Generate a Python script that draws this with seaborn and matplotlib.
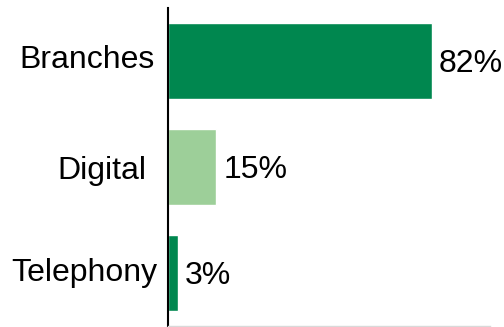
import matplotlib
matplotlib.use("Agg")
import matplotlib.pyplot as plt
import seaborn as sns
import pandas as pd

categories = ["Branches", "Digital", "Telephony"]
values = [82, 15, 3]
labels = ["82%", "15%", "3%"]
colors = ["#00874F", "#9DCF99", "#00874F"]

sns.set_theme(style="white")
plt.rcParams["font.family"] = ["Liberation Sans", "DejaVu Sans"]

df = pd.DataFrame({"channel": categories, "share": values})

fig = plt.figure(figsize=(5.04, 3.27), dpi=100)
ax = fig.add_axes([168/504, 1 - 326/327, (490-168)/504, (326-8)/327])
sns.barplot(data=df, x="share", y="channel", hue="channel", palette=colors,
            width=0.72, legend=False, ax=ax, saturation=1)
ax.set_xlim(0, 100)
ax.set_ylim(2.5, -0.5)
ax.set_xlabel("")
ax.set_ylabel("")
ax.set_xticks([])
ax.set_yticks(range(len(categories)))
ax.set_yticklabels([])
ax.tick_params(axis="y", length=0)

# category labels (pixel offsets from the axis, per label as in the reference)
label_dx = [-13, -22, -11]
label_dy = [5, -1, 4]
for i, (c, dx, dy) in enumerate(zip(categories, label_dx, label_dy)):
    ax.annotate(c, (0, i), xycoords=("axes fraction", "data"),
                xytext=(dx * 0.72, dy * 0.72), textcoords="offset points",
                ha="right", va="center_baseline", fontsize=23, color="black")

for i, (v, t) in enumerate(zip(values, labels)):
    ax.annotate(t, (v, i), xytext=(5, 0), textcoords="offset points",
                va="center_baseline", ha="left", fontsize=23, color="black")
for s in ["top", "right"]:
    ax.spines[s].set_visible(False)
ax.spines["left"].set_color("black")
ax.spines["left"].set_linewidth(1.5)
ax.spines["bottom"].set_color("#d9d9d9")
ax.spines["bottom"].set_linewidth(1)
fig.savefig("out.png", dpi=100)
